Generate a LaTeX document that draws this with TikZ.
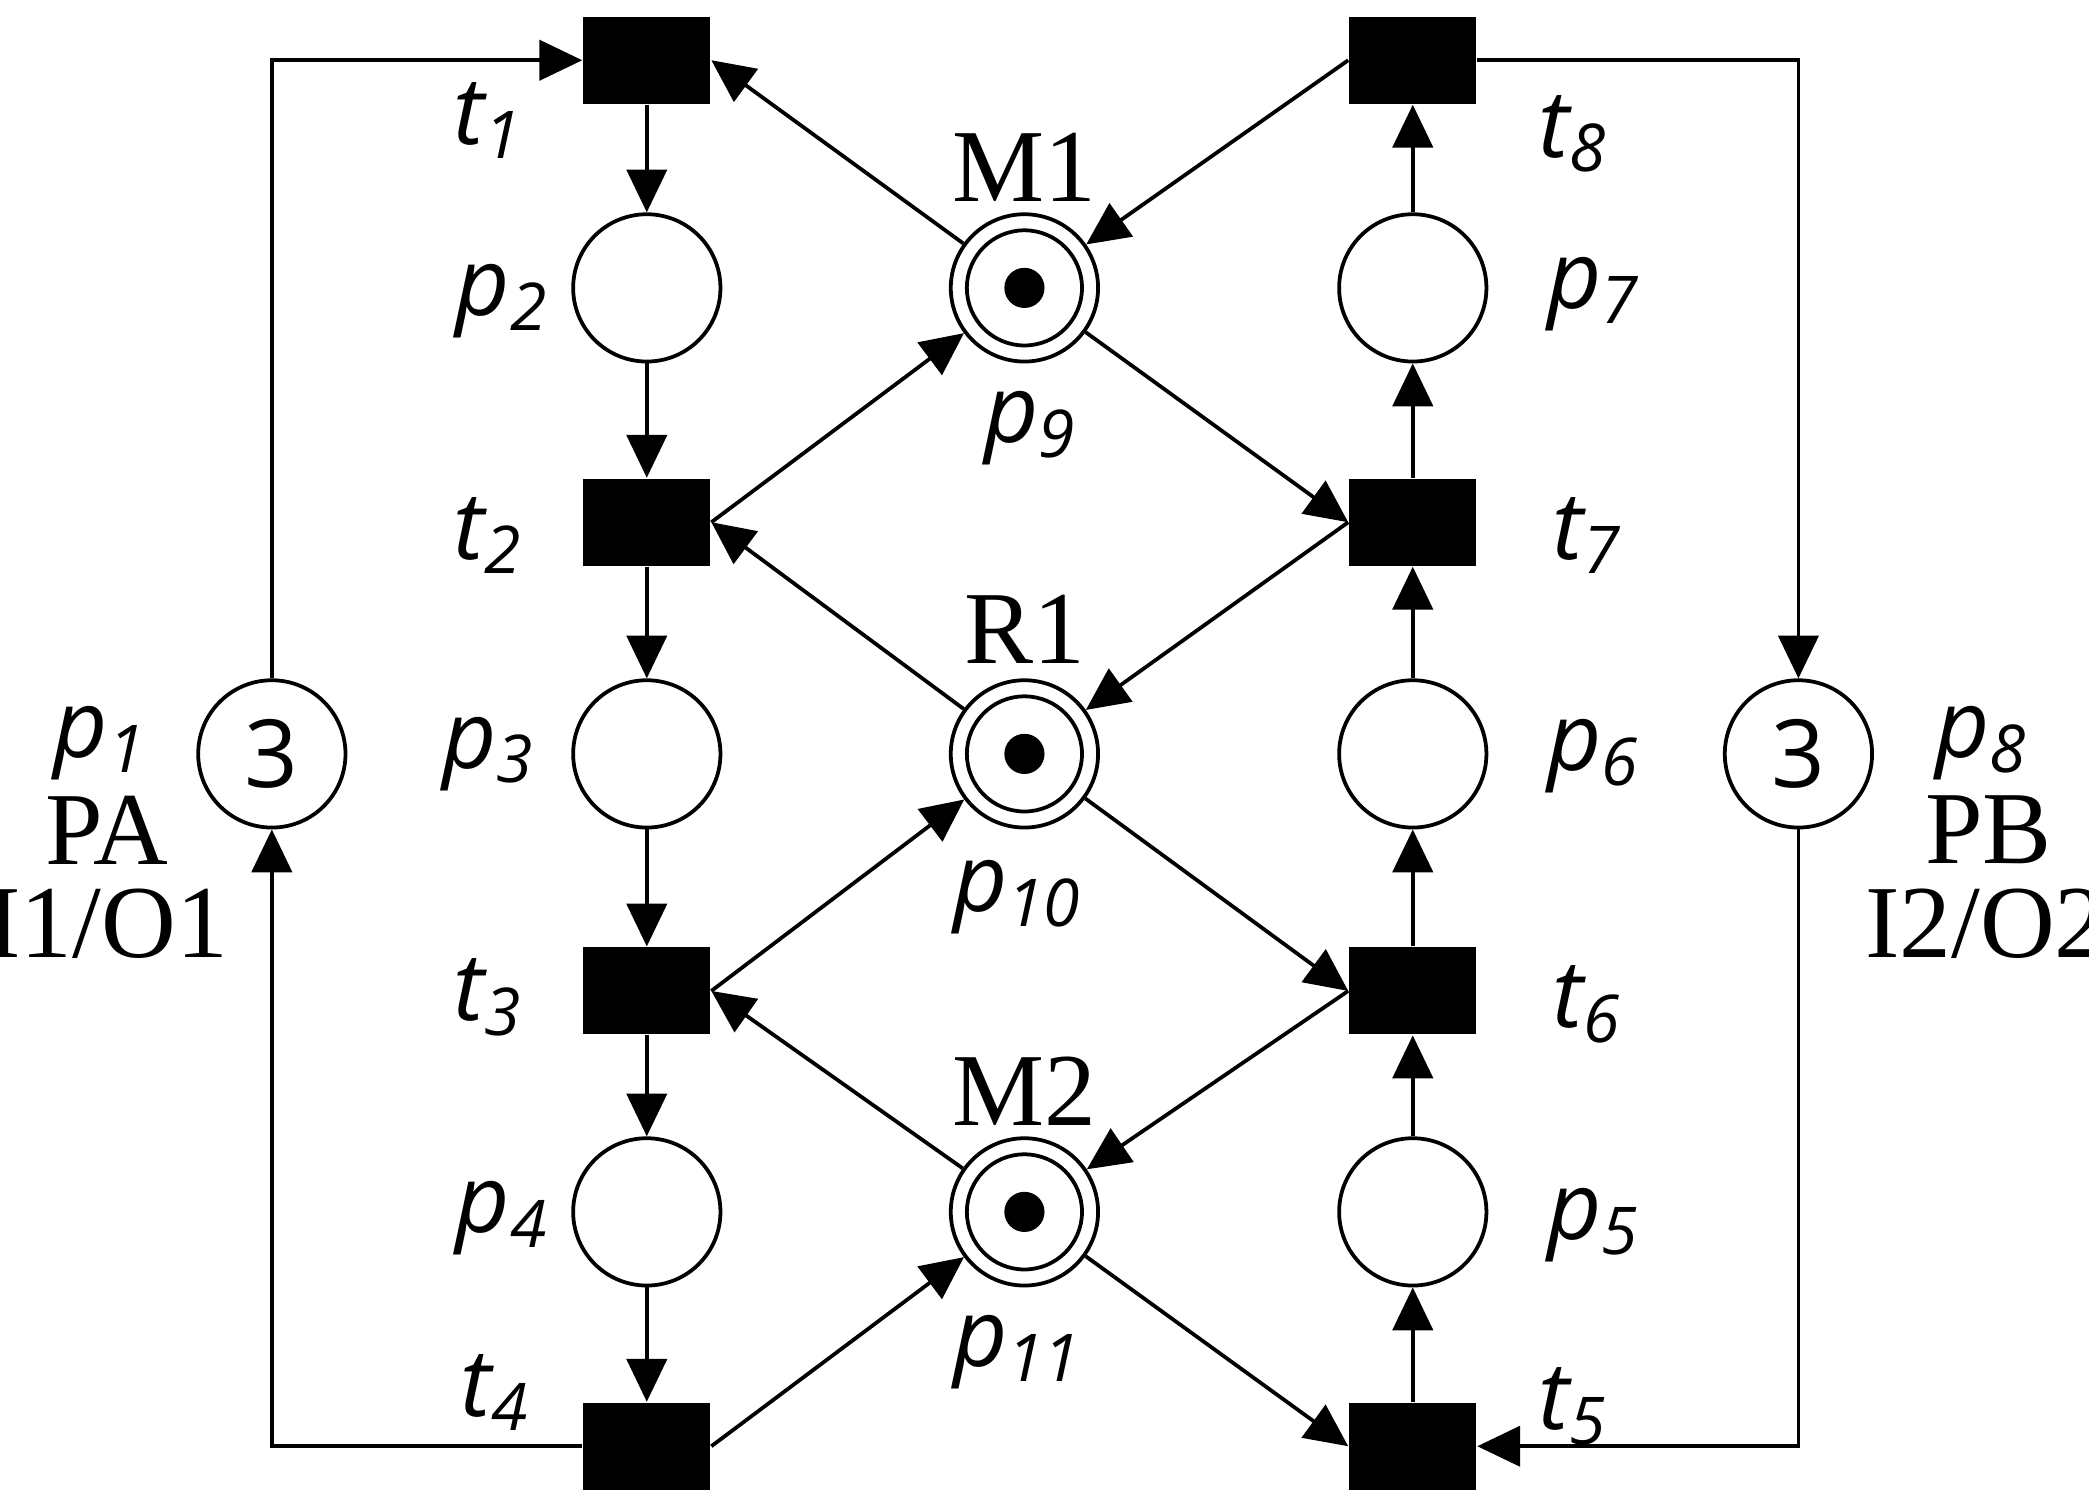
\documentclass[tikz,border=0pt]{standalone}
\usepackage{fontspec}
\setmainfont{Liberation Serif}
\setsansfont{Open Sans}
\usetikzlibrary{arrows.meta}
\usetikzlibrary{calc}
\tikzstyle{arrow} = [line width=0.8pt,-{Triangle[length=0.32cm,width=0.3cm]},color=black]
\tikzstyle{place} = [circle, draw=black, line width=0.8pt, minimum size=1.1cm, inner sep=0pt, fill=white]
\tikzstyle{trans} = [rectangle, fill=black, minimum width=0.95cm, minimum height=0.65cm, inner sep=0pt]
\tikzstyle{lbl} = [font=\fontsize{20}{24}\selectfont\sffamily\itshape]
\tikzstyle{title} = [font=\fontsize{22}{26}\selectfont]

\begin{document}
\begin{tikzpicture}
    \useasboundingbox (0,0) rectangle (15.6,11.2);
    % nodes
    % left branch
    \node (t1) [trans] at (4.83,10.75) {};
    \node (p2) [place] at (4.83,9.05) {};
    \node (t2) [trans] at (4.83,7.3) {};
    \node (p3) [place] at (4.83,5.57) {};
    \node (t3) [trans] at (4.83,3.8) {};
    \node (p4) [place] at (4.83,2.15) {};
    \node (t4) [trans] at (4.83,0.4) {};

    % right branch
    \node (t8) [trans] at (10.55,10.75) {};
    \node (p7) [place] at (10.55,9.05) {};
    \node (t7) [trans] at (10.55,7.3) {};
    \node (p6) [place] at (10.55,5.57) {};
    \node (t6) [trans] at (10.55,3.8) {};
    \node (p5) [place] at (10.55,2.15) {};
    \node (t5) [trans] at (10.55,0.4) {};

    % resources
    \node (p9) [place] at (7.65,9.05) {};
    \node (p10) [place] at (7.65,5.57) {};
    \node (p11) [place] at (7.65,2.15) {};
    \foreach \r in {p9,p10,p11} {
        \draw [line width=0.8pt] (\r) circle (0.43cm);
        \fill (\r) circle (0.15cm);
    }

    % idle places
    \node (p1) [place, font=\fontsize{20}{24}\selectfont\sffamily] at (2.03,5.57) {3};
    \node (p8) [place, font=\fontsize{20}{24}\selectfont\sffamily] at (13.43,5.57) {3};

    % labels
    \node [lbl] at (3.65,10.3) {t\textsubscript{1}};
    \node [lbl] at (3.75,8.95) {p\textsubscript{2}};
    \node [lbl] at (3.65,7.2) {t\textsubscript{2}};
    \node [lbl] at (3.65,5.57) {p\textsubscript{3}};
    \node [lbl] at (3.65,3.75) {t\textsubscript{3}};
    \node [lbl] at (3.75,2.1) {p\textsubscript{4}};
    \node [lbl] at (3.7,0.8) {t\textsubscript{4}};
    \node [lbl] at (11.75,10.2) {t\textsubscript{8}};
    \node [lbl] at (11.9,9.0) {p\textsubscript{7}};
    \node [lbl] at (11.85,7.2) {t\textsubscript{7}};
    \node [lbl] at (11.9,5.55) {p\textsubscript{6}};
    \node [lbl] at (11.85,3.7) {t\textsubscript{6}};
    \node [lbl] at (11.9,2.05) {p\textsubscript{5}};
    \node [lbl] at (11.75,0.7) {t\textsubscript{5}};
    \node [lbl] at (7.7,8.0) {p\textsubscript{9}};
    \node [lbl] at (7.6,4.5) {p\textsubscript{10}};
    \node [lbl] at (7.6,1.1) {p\textsubscript{11}};
    \node [title] at (7.65,9.95) {M1};
    \node [title] at (7.65,6.5) {R1};
    \node [title] at (7.65,3.05) {M2};
    \node [lbl] at (0.75,5.65) {p\textsubscript{1}};
    \node [title] at (0.8,5.0) {PA};
    \node [title] at (0.8,4.3) {I1/O1};
    \node [lbl] at (14.8,5.65) {p\textsubscript{8}};
    \node [title] at (14.85,5.0) {PB};
    \node [title] at (14.83,4.3) {I2/O2};

    % arrows
    % left branch
    \draw [arrow] (t1) -- (p2);
    \draw [arrow] (p2) -- (t2);
    \draw [arrow] (t2) -- (p3);
    \draw [arrow] (p3) -- (t3);
    \draw [arrow] (t3) -- (p4);
    \draw [arrow] (p4) -- (t4);
    \draw [arrow] (p1.north) |- (t1.west);
    \draw [arrow] (t4.west) -| (p1.south);

    % right branch
    \draw [arrow] (t5) -- (p5);
    \draw [arrow] (p5) -- (t6);
    \draw [arrow] (t6) -- (p6);
    \draw [arrow] (p6) -- (t7);
    \draw [arrow] (t7) -- (p7);
    \draw [arrow] (p7) -- (t8);
    \draw [arrow] (t8.east) -| (p8.north);
    \draw [arrow] (p8.south) |- (t5.east);

    % resources
    \draw [arrow] (p9) -- (t1.east);
    \draw [arrow] (t2.east) -- (p9);
    \draw [arrow] (t8.west) -- (p9);
    \draw [arrow] (p9) -- (t7.west);
    \draw [arrow] (p10) -- (t2.east);
    \draw [arrow] (t3.east) -- (p10);
    \draw [arrow] (t7.west) -- (p10);
    \draw [arrow] (p10) -- (t6.west);
    \draw [arrow] (p11) -- (t3.east);
    \draw [arrow] (t4.east) -- (p11);
    \draw [arrow] (t6.west) -- (p11);
    \draw [arrow] (p11) -- (t5.west);
\end{tikzpicture}
\end{document}
